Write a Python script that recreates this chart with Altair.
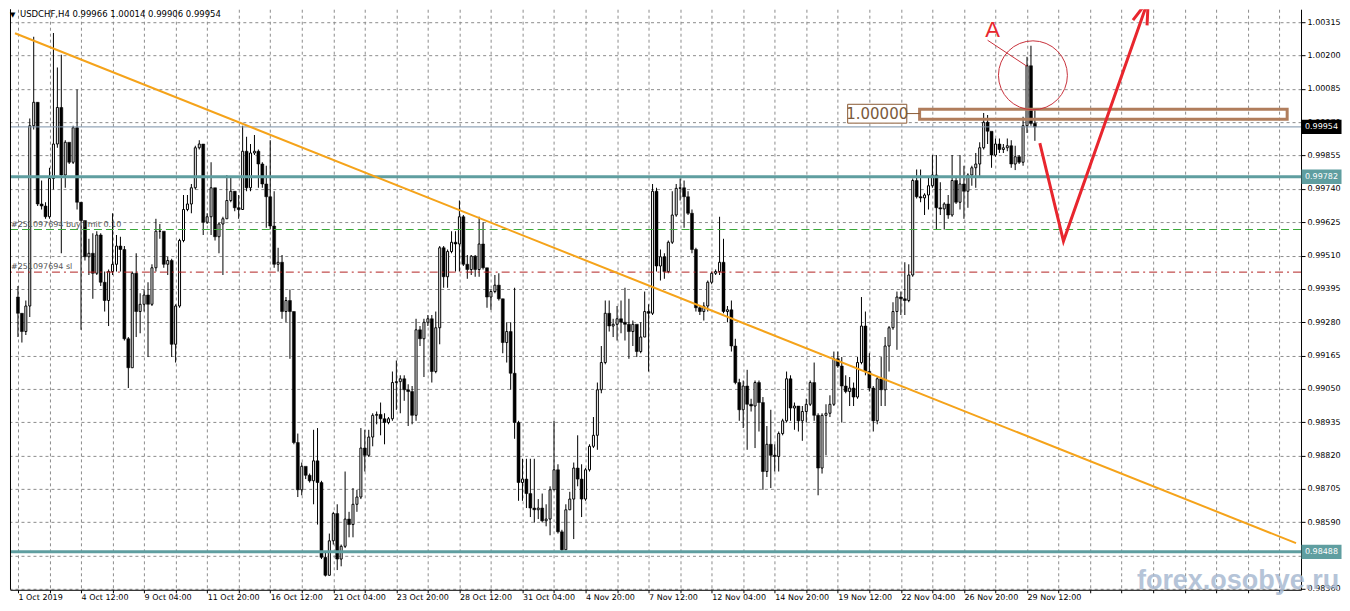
import json
import altair as alt
import pandas as pd

# ---------------- data (USDCHF H4, 1 Oct - 29 Nov 2019) ----------------
first_open = 0.99367
closes = [
    0.99311, 0.99248, 0.99336, 0.99958, 1.00039, 0.99688, 0.99681, 0.99644, 0.99776, 0.99895,
    1.00021, 0.99788, 0.99901, 0.99832, 0.99951, 0.99694, 0.99631, 0.99506, 0.99518, 0.99449,
    0.99581, 0.99418, 0.99355, 0.99455, 0.99480, 0.99543, 0.99531, 0.99223, 0.99123, 0.99449,
    0.99317, 0.99342, 0.99374, 0.99342, 0.99468, 0.99594, 0.99594, 0.99480, 0.99493, 0.99204,
    0.99336, 0.99562, 0.99669, 0.99688, 0.99744, 0.99882, 0.99895, 0.99625, 0.99644, 0.99744,
    0.99575, 0.99619, 0.99637, 0.99700, 0.99732, 0.99675, 0.99669, 0.99870, 0.99744, 0.99864,
    0.99870, 0.99826, 0.99757, 0.99713, 0.99612, 0.99480, 0.99487, 0.99317, 0.99355, 0.99317,
    0.98865, 0.98702, 0.98783, 0.98752, 0.98733, 0.98802, 0.98727, 0.98469, 0.98407, 0.98526,
    0.98620, 0.98463, 0.98507, 0.98601, 0.98582, 0.98652, 0.98677, 0.98846, 0.98821, 0.98884,
    0.98959, 0.98962, 0.98947, 0.98934, 0.98947, 0.99072, 0.99075, 0.99085, 0.99047, 0.99041,
    0.98959, 0.99254, 0.99223, 0.99280, 0.99292, 0.99110, 0.99261, 0.99537, 0.99437, 0.99524,
    0.99556, 0.99550, 0.99644, 0.99480, 0.99462, 0.99508, 0.99462, 0.99550, 0.99468, 0.99367,
    0.99386, 0.99408, 0.99361, 0.99210, 0.99248, 0.99104, 0.98934, 0.98727, 0.98739, 0.98689,
    0.98639, 0.98633, 0.98639, 0.98595, 0.98601, 0.98702, 0.98771, 0.98557, 0.98495, 0.98633,
    0.98670, 0.98777, 0.98739, 0.98670, 0.98771, 0.98852, 0.98890, 0.99047, 0.99141, 0.99311,
    0.99267, 0.99273, 0.99292, 0.99280, 0.99273, 0.99248, 0.99273, 0.99179, 0.99229, 0.99317,
    0.99311, 0.99732, 0.99474, 0.99506, 0.99455, 0.99556, 0.99650, 0.99742, 0.99744, 0.99713,
    0.99656, 0.99531, 0.99330, 0.99317, 0.99336, 0.99418, 0.99449, 0.99455, 0.99487, 0.99317,
    0.99323, 0.99198, 0.99072, 0.98978, 0.99060, 0.98997, 0.98991, 0.99072, 0.99003, 0.98765,
    0.98859, 0.98821, 0.98817, 0.98896, 0.98940, 0.99085, 0.98984, 0.98991, 0.98940, 0.98972,
    0.98997, 0.99072, 0.98959, 0.98777, 0.98959, 0.98966, 0.98997, 0.99154, 0.99129, 0.99060,
    0.99041, 0.99053, 0.99022, 0.99141, 0.99267, 0.99110, 0.99053, 0.98940, 0.99085, 0.99047,
    0.99198, 0.99261, 0.99317, 0.99367, 0.99361, 0.99355, 0.99443, 0.99769, 0.99713, 0.99709,
    0.99719, 0.99751, 0.99788, 0.99675, 0.99671, 0.99688, 0.99650, 0.99769, 0.99694, 0.99757,
    0.99732, 0.99788, 0.99813, 0.99826, 0.99882, 0.99970, 0.99939, 0.99857, 0.99895, 0.99876,
    0.99882, 0.99889, 0.99826, 0.99851, 0.99832, 0.99958, 1.00165, 0.99966, 0.99954,
]
highs = [
    0.99405, 0.99311, 0.99355, 0.99983, 1.00265, 1.00039, 0.99769, 0.99694, 0.99813, 1.00278,
    1.00159, 1.00203, 0.99908, 0.99895, 0.99958, 1.00083, 0.99694, 0.99606, 0.99568, 0.99587,
    0.99594, 0.99587, 0.99455, 0.99462, 0.99656, 0.99581, 0.99575, 0.99543, 0.99229, 0.99455,
    0.99518, 0.99380, 0.99393, 0.99418, 0.99480, 0.99637, 0.99619, 0.99568, 0.99506, 0.99499,
    0.99342, 0.99568, 0.99719, 0.99719, 0.99757, 0.99889, 0.99908, 0.99895, 0.99656, 0.99832,
    0.99744, 0.99625, 0.99644, 0.99788, 0.99782, 0.99732, 0.99719, 0.99958, 0.99920, 0.99895,
    0.99926, 0.99876, 0.99832, 0.99820, 0.99908, 0.99732, 0.99537, 0.99512, 0.99367, 0.99393,
    0.99317, 0.98896, 0.98796, 0.98777, 0.98758, 0.98909, 0.98915, 0.98733, 0.98488, 0.98551,
    0.98626, 0.98652, 0.98513, 0.98765, 0.98626, 0.98708, 0.98702, 0.98915, 0.98909, 0.98909,
    0.98966, 0.98972, 0.99003, 0.98966, 0.98953, 0.99110, 0.99148, 0.99097, 0.99097, 0.99066,
    0.99060, 0.99292, 0.99267, 0.99292, 0.99305, 0.99305, 0.99317, 0.99543, 0.99543, 0.99531,
    0.99594, 0.99594, 0.99700, 0.99650, 0.99512, 0.99512, 0.99512, 0.99644, 0.99625, 0.99468,
    0.99393, 0.99443, 0.99449, 0.99361, 0.99280, 0.99280, 0.99399, 0.98940, 0.98809, 0.98809,
    0.98809, 0.98809, 0.98670, 0.98689, 0.98652, 0.98714, 0.98940, 0.98790, 0.98564, 0.98652,
    0.98695, 0.98796, 0.98890, 0.98790, 0.98777, 0.98859, 0.98953, 0.99072, 0.99198, 0.99355,
    0.99355, 0.99292, 0.99336, 0.99355, 0.99399, 0.99361, 0.99286, 0.99267, 0.99280, 0.99386,
    0.99342, 0.99757, 0.99744, 0.99531, 0.99518, 0.99562, 0.99732, 0.99757, 0.99776, 0.99769,
    0.99732, 0.99669, 0.99537, 0.99336, 0.99349, 0.99424, 0.99455, 0.99462, 0.99644, 0.99568,
    0.99336, 0.99355, 0.99223, 0.99085, 0.99079, 0.99116, 0.99016, 0.99079, 0.99079, 0.99022,
    0.98922, 0.98978, 0.98859, 0.98903, 0.98947, 0.99110, 0.99097, 0.99003, 0.98991, 0.98991,
    0.99016, 0.99079, 0.99141, 0.98966, 0.98966, 0.98997, 0.99028, 0.99179, 0.99179, 0.99160,
    0.99097, 0.99091, 0.99072, 0.99160, 0.99367, 0.99317, 0.99173, 0.99060, 0.99091, 0.99160,
    0.99229, 0.99267, 0.99349, 0.99386, 0.99386, 0.99487, 0.99480, 0.99776, 0.99807, 0.99807,
    0.99725, 0.99782, 0.99857, 0.99857, 0.99763, 0.99694, 0.99719, 0.99857, 0.99782, 0.99857,
    0.99820, 0.99794, 0.99820, 0.99864, 0.99901, 1.00002, 0.99995, 0.99914, 0.99914, 0.99914,
    0.99895, 0.99914, 0.99908, 0.99889, 0.99857, 0.99989, 1.00196, 1.00234, 1.00014,
]
lows = [
    0.99229, 0.99210, 0.99236, 0.99298, 0.99945, 0.99681, 0.99669, 0.99637, 0.99637, 0.99738,
    0.99882, 0.99518, 0.99744, 0.99826, 0.99826, 0.99669, 0.99254, 0.99493, 0.99443, 0.99361,
    0.99443, 0.99405, 0.99317, 0.99267, 0.99443, 0.99455, 0.99455, 0.99217, 0.99053, 0.99129,
    0.99229, 0.99242, 0.99317, 0.99160, 0.99336, 0.99455, 0.99568, 0.99468, 0.99443, 0.99160,
    0.99141, 0.99330, 0.99556, 0.99663, 0.99656, 0.99738, 0.99876, 0.99581, 0.99619, 0.99581,
    0.99562, 0.99518, 0.99443, 0.99637, 0.99694, 0.99663, 0.99637, 0.99669, 0.99732, 0.99732,
    0.99857, 0.99744, 0.99744, 0.99606, 0.99600, 0.99468, 0.99455, 0.99292, 0.99280, 0.99154,
    0.98859, 0.98677, 0.98683, 0.98739, 0.98727, 0.98652, 0.98582, 0.98463, 0.98403, 0.98407,
    0.98513, 0.98425, 0.98438, 0.98501, 0.98538, 0.98538, 0.98626, 0.98670, 0.98765, 0.98815,
    0.98852, 0.98928, 0.98890, 0.98859, 0.98928, 0.98940, 0.98978, 0.98966, 0.99009, 0.98922,
    0.98928, 0.98940, 0.99198, 0.99091, 0.99267, 0.99072, 0.99104, 0.99204, 0.99399, 0.99399,
    0.99518, 0.99455, 0.99455, 0.99474, 0.99430, 0.99443, 0.99437, 0.99437, 0.99462, 0.99330,
    0.99323, 0.99380, 0.99355, 0.99173, 0.99141, 0.99047, 0.98878, 0.98664, 0.98664, 0.98639,
    0.98608, 0.98589, 0.98601, 0.98589, 0.98576, 0.98545, 0.98702, 0.98551, 0.98491, 0.98495,
    0.98633, 0.98532, 0.98714, 0.98608, 0.98664, 0.98765, 0.98846, 0.98840, 0.99035, 0.99135,
    0.99248, 0.99229, 0.99217, 0.99242, 0.99217, 0.99154, 0.99198, 0.99160, 0.99173, 0.99267,
    0.99110, 0.99305, 0.99455, 0.99424, 0.99430, 0.99449, 0.99550, 0.99644, 0.99700, 0.99606,
    0.99650, 0.99518, 0.99317, 0.99305, 0.99286, 0.99317, 0.99411, 0.99443, 0.99443, 0.99311,
    0.99280, 0.99179, 0.99066, 0.98940, 0.98915, 0.98840, 0.98972, 0.98846, 0.98903, 0.98702,
    0.98746, 0.98708, 0.98765, 0.98765, 0.98890, 0.98934, 0.98940, 0.98909, 0.98903, 0.98871,
    0.98934, 0.98991, 0.98940, 0.98683, 0.98758, 0.98821, 0.98953, 0.98991, 0.99123, 0.98934,
    0.99035, 0.98991, 0.98991, 0.99016, 0.99135, 0.99097, 0.99041, 0.98903, 0.98928, 0.98991,
    0.98991, 0.99110, 0.99254, 0.99185, 0.99305, 0.99305, 0.99349, 0.99437, 0.99707, 0.99694,
    0.99650, 0.99669, 0.99744, 0.99600, 0.99650, 0.99600, 0.99637, 0.99644, 0.99688, 0.99669,
    0.99637, 0.99675, 0.99751, 0.99744, 0.99782, 0.99876, 0.99895, 0.99813, 0.99851, 0.99864,
    0.99864, 0.99870, 0.99813, 0.99805, 0.99826, 0.99820, 0.99933, 0.99958, 0.99906,
]

date_labels = ["1 Oct 2019", "4 Oct 12:00", "9 Oct 04:00", "11 Oct 20:00", "16 Oct 12:00",
               "21 Oct 04:00", "23 Oct 20:00", "28 Oct 12:00", "31 Oct 04:00", "4 Nov 20:00",
               "7 Nov 12:00", "12 Nov 04:00", "14 Nov 20:00", "19 Nov 12:00", "22 Nov 04:00",
               "26 Nov 20:00", "29 Nov 12:00"]
bars_per_label = 16
price_ticks = [1.00315, 1.00200, 1.00085, 0.99970, 0.99855, 0.99740, 0.99625, 0.99510, 0.99395,
               0.99280, 0.99165, 0.99050, 0.98935, 0.98820, 0.98705, 0.98590, 0.98475, 0.98360]

header = "USDCHF,H4  0.99966 1.00014 0.99906 0.99954"

# horizontal levels
bid_level = 0.99954
support_levels = [0.99782, 0.98488]
buy_limit_level = 0.99600
sl_level = 0.99453

# trend line (bar index, price)
trend_i = [-0.75, 324.25]
trend_p = [1.00277, 0.98518]

# resistance zone around 1.00000
zone_i = [228.75, 322.0]
zone_p = [0.99980, 1.00015]
zone_label = "1.00000"
zone_label_i = [210.5, 225.5]
zone_label_p = [0.99967, 1.00032]

# annotation "A"
a_text_i, a_text_p = 247.25, 1.00287
a_line_i = [246.0, 256.0]
a_line_p = [1.00253, 1.00163]
circle_i, circle_p = 257.5, 1.00132

# forecast arrow
arrow_i = [259.25, 265.25, 286.75]
arrow_p = [0.99898, 0.99560, 1.00391]

# ---------------- frame ----------------
W, H = 1292, 581
FONT = "DejaVu Sans"
xs = alt.Scale(domain=[-0.75, 324.25], nice=False, zero=False)
ys = alt.Scale(domain=[0.98357, 1.00360], nice=False, zero=False)

n = min(len(closes), len(highs), len(lows))
opens = [first_open] + closes[:n - 1]
df = pd.DataFrame({
    "i": list(range(n)),
    "open": opens,
    "close": closes[:n],
    "high": highs[:n],
    "low": lows[:n],
})
df["up"] = [c >= o for o, c in zip(df["open"], df["close"])]

label_js = json.dumps(date_labels)
x_axis = alt.Axis(
    values=list(range(0, 325, bars_per_label // 2)),
    labelExpr=f"datum.value % {bars_per_label} === 0 ? {label_js}[datum.value / {bars_per_label}] : ''",
    title=None, grid=True, gridColor="#8c8c8c", gridDash=[3, 3], gridWidth=1,
    domainColor="black", domainWidth=1, tickColor="black", tickSize=3,
    labelAlign="left", labelBaseline="top", labelPadding=1, labelOffset=0,
    labelFont=FONT, labelFontSize=8, labelColor="black", labelOverlap=False, labelFlush=False,
)
y_axis = alt.Axis(
    orient="right", values=price_ticks, format=".5f", title=None,
    grid=True, gridColor="#8c8c8c", gridDash=[3, 3], gridWidth=1,
    domainColor="black", domainWidth=1, tickColor="black", tickSize=4,
    labelPadding=2, labelFont=FONT, labelFontSize=8, labelColor="black", labelOverlap=False,
)

def X(field):
    return alt.X(field, scale=xs, axis=x_axis)

def Y(field):
    return alt.Y(field, scale=ys, axis=y_axis)

base = alt.Chart(df)
wicks = base.mark_rule(color="black", strokeWidth=1).encode(
    x=X("i:Q"), y=Y("low:Q"), y2="high:Q")
bodies_up = base.transform_filter("datum.up").mark_bar(
    size=2, fill="white", stroke="black", strokeWidth=1).encode(
    x=X("i:Q"), y=Y("open:Q"), y2="close:Q")
bodies_dn = base.transform_filter("!datum.up").mark_bar(
    size=3, fill="black", stroke="black", strokeWidth=0.5).encode(
    x=X("i:Q"), y=Y("open:Q"), y2="close:Q")

def hline(level, color, width, dash=None):
    kw = dict(color=color, strokeWidth=width)
    if dash:
        kw["strokeDash"] = dash
    return alt.Chart(pd.DataFrame({"p": [level]})).mark_rule(**kw).encode(y=Y("p:Q"))

lines = [
    hline(buy_limit_level, "#3aa83a", 1, [8, 4]),
    hline(sl_level, "#b22222", 1, [8, 4, 2, 4]),
    hline(bid_level, "#7890a8", 1),
    hline(support_levels[0], "#5f9ea0", 3),
    hline(support_levels[1], "#5f9ea0", 3),
]

order_text = alt.Chart(pd.DataFrame({
    "p": [buy_limit_level, sl_level],
    "t": ["#251097694 buy limit 0.10", "#251097694 sl"],
})).mark_text(align="left", baseline="bottom", dy=-1, font=FONT, fontSize=8, color="#555555").encode(
    x=alt.value(1), y=Y("p:Q"), text="t:N")

trend = alt.Chart(pd.DataFrame({"i": trend_i, "p": trend_p})).mark_line(
    color="#f5a31a", strokeWidth=2).encode(x=X("i:Q"), y=Y("p:Q"))

zone = alt.Chart(pd.DataFrame({"i": [zone_i[0]], "i2": [zone_i[1]], "p": [zone_p[0]], "p2": [zone_p[1]]})).mark_rect(
    fillOpacity=0, stroke="#b07d5c", strokeWidth=3).encode(
    x=X("i:Q"), x2="i2:Q", y=Y("p:Q"), y2="p2:Q")
zone_box = alt.Chart(pd.DataFrame({"i": [zone_label_i[0]], "i2": [zone_label_i[1]],
                                   "p": [zone_label_p[0]], "p2": [zone_label_p[1]]})).mark_rect(
    fill="white", stroke="#8a5a34", strokeWidth=1).encode(
    x=X("i:Q"), x2="i2:Q", y=Y("p:Q"), y2="p2:Q")
zone_link = alt.Chart(pd.DataFrame({"i": [zone_label_i[1]], "i2": [zone_i[0]], "p": [1.0]})).mark_rule(
    color="#8a5a34", strokeWidth=1).encode(x=X("i:Q"), x2="i2:Q", y=Y("p:Q"))
zone_text = alt.Chart(pd.DataFrame({"i": [(zone_label_i[0] + zone_label_i[1]) / 2],
                                    "p": [(zone_label_p[0] + zone_label_p[1]) / 2],
                                    "t": [zone_label]})).mark_text(
    font=FONT, fontSize=15, color="#7a5a3c", baseline="middle", align="center").encode(
    x=X("i:Q"), y=Y("p:Q"), text="t:N")

circle = alt.Chart(pd.DataFrame({"i": [circle_i], "p": [circle_p]})).mark_point(
    shape="circle", size=4761, filled=False, stroke="#c8323c", strokeWidth=1, opacity=1).encode(
    x=X("i:Q"), y=Y("p:Q"))
a_line = alt.Chart(pd.DataFrame({"i": a_line_i, "p": a_line_p})).mark_line(
    color="#c8323c", strokeWidth=1).encode(x=X("i:Q"), y=Y("p:Q"))
a_text = alt.Chart(pd.DataFrame({"i": [a_text_i], "p": [a_text_p], "t": ["A"]})).mark_text(
    font="Liberation Sans", fontSize=22, color="#e8262e", baseline="middle").encode(
    x=X("i:Q"), y=Y("p:Q"), text="t:N")

arrow = alt.Chart(pd.DataFrame({"i": arrow_i, "p": arrow_p, "o": [0, 1, 2]})).mark_line(
    color="#e8262e", strokeWidth=3, clip=True).encode(x=X("i:Q"), y=Y("p:Q"), order="o:Q")
arrow_head = alt.Chart(pd.DataFrame({"i": [arrow_i[-1]], "p": [arrow_p[-1]]})).mark_point(
    shape="M-0.5,1.6L0,0L0.5,1.6", size=900, filled=False, stroke="#e8262e", strokeWidth=3,
    angle=20, opacity=1, clip=True).encode(x=X("i:Q"), y=Y("p:Q"))

# price tags on the right axis
TAG_X = W + 20.5
def tag(level, bg):
    d = pd.DataFrame({"p": [level], "t": [f"{level:.5f}"]})
    box = alt.Chart(d).mark_point(
        shape="M-1.4,-0.5H1.4V0.5H-1.4Z", size=818, filled=True, fill=bg, opacity=1,
        strokeWidth=0).encode(x=alt.value(TAG_X), y=Y("p:Q"))
    txt = alt.Chart(d).mark_text(font=FONT, fontSize=8, color="white", align="center",
                                 baseline="middle").encode(
        x=alt.value(TAG_X), y=Y("p:Q"), text="t:N")
    return [box, txt]

tags = tag(bid_level, "black") + tag(support_levels[0], "#5f9ea0") + tag(support_levels[1], "#5f9ea0")

left_border = alt.Chart(pd.DataFrame({"k": [0]})).mark_rule(color="black", strokeWidth=1).encode(
    x=alt.value(0.5), y=alt.value(0), y2=alt.value(H))

title_tri = alt.Chart(pd.DataFrame({"t": ["\u25bc"]})).mark_text(
    font=FONT, fontSize=7, color="black", align="left", baseline="top").encode(
    x=alt.value(0), y=alt.value(2), text="t:N")
title_txt = alt.Chart(pd.DataFrame({"t": [header]})).mark_text(
    font=FONT, fontSize=8.5, color="black", align="left", baseline="top").encode(
    x=alt.value(10), y=alt.value(1), text="t:N")

watermark = alt.Chart(pd.DataFrame({"t": ["forex.osobye.ru"]})).mark_text(
    font="Liberation Sans", fontWeight="bold", fontSize=27, color="#a9bad2", opacity=0.85,
    align="center", baseline="middle").encode(
    x=alt.value(1229), y=alt.value(572), text="t:N")

chart = alt.layer(
    wicks, bodies_up, bodies_dn, *lines, order_text, trend, zone, zone_link, zone_box, zone_text,
    circle, a_line, a_text, arrow, arrow_head, *tags, left_border,
    title_tri, title_txt, watermark,
).properties(
    width=W, height=H, padding={"left": 0, "top": 0, "right": 0, "bottom": 0},
    background="white",
).configure_view(stroke=None)

chart.save("out.html", embed_options={"renderer": "svg", "actions": False})
